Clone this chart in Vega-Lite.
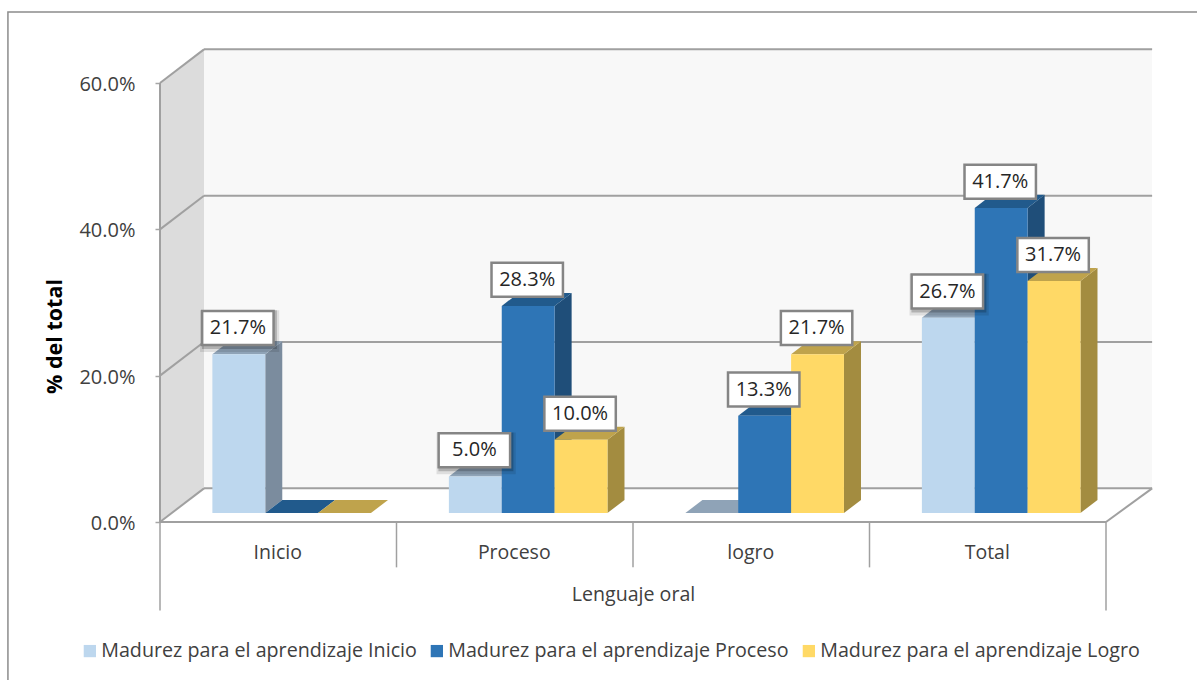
{
"$schema":"https://vega.github.io/schema/vega-lite/v6.json",
"width":946,"height":439,
"autosize":{"type":"none"},
"padding":{"left":160,"top":83,"right":91,"bottom":158},
"background":"white",
"config":{"view":{"stroke":null},"font":"Open Sans"},
"datasets":{
"bars":[
{"grupo":"Inicio","serie":"Madurez para el aprendizaje Inicio","valor":21.7},
{"grupo":"Inicio","serie":"Madurez para el aprendizaje Proceso","valor":0},
{"grupo":"Inicio","serie":"Madurez para el aprendizaje Logro","valor":0},
{"grupo":"Proceso","serie":"Madurez para el aprendizaje Inicio","valor":5.0},
{"grupo":"Proceso","serie":"Madurez para el aprendizaje Proceso","valor":28.3},
{"grupo":"Proceso","serie":"Madurez para el aprendizaje Logro","valor":10.0},
{"grupo":"logro","serie":"Madurez para el aprendizaje Inicio","valor":0},
{"grupo":"logro","serie":"Madurez para el aprendizaje Proceso","valor":13.3},
{"grupo":"logro","serie":"Madurez para el aprendizaje Logro","valor":21.7},
{"grupo":"Total","serie":"Madurez para el aprendizaje Inicio","valor":26.7},
{"grupo":"Total","serie":"Madurez para el aprendizaje Proceso","valor":41.7},
{"grupo":"Total","serie":"Madurez para el aprendizaje Logro","valor":31.7}
],
"niveles":[{"nivel":0},{"nivel":20},{"nivel":40},{"nivel":60}],
"bordes":[{"b":0},{"b":1}]
},
"layer":[
{"mark":{"type":"rect","fillOpacity":0,"stroke":"#8c8c8c","strokeWidth":1.5,"clip":false},
 "data":{"values":[{"marco":1}]},
 "encoding":{
  "x":{"datum":-0.643,"type":"quantitative","scale":{"domain":[0,4],"nice":false},"axis":{"values":[0.5,1.5,2.5,3.5],"labelExpr":"['Inicio','Proceso','logro','Total'][floor(datum.value)]","title":"Lenguaje oral","titleFontSize":19.6,"titleFontWeight":"normal","titleColor":"#404040","titlePadding":24,"labelFontSize":19.5,"labelColor":"#404040","labelPadding":21,"labelOffset":-1,"ticks":false,"domain":false,"grid":false}},
  "x2":{"datum":4.5},
  "y":{"datum":-25,"type":"quantitative","scale":{"domain":[0,60],"nice":false},"axis":{"values":[0,20,40,60],"labelExpr":"format(datum.value,'.1f')+'%'","title":"% del total","titleFontSize":21.5,"titleFontWeight":"bold","titleColor":"#000000","titleFont":"Open Sans","titleX":-94,"titleY":253,"labelFontSize":20,"labelColor":"#404040","labelPadding":20,"labelOffset":1.5,"tickColor":"#a6a6a6","tickSize":5,"tickWidth":1.5,"domain":false,"grid":false}},
  "y2":{"datum":69.7}
 }},
{"mark":{"type":"rect","fill":"#f8f8f8","clip":false},
 "data":{"values":[{"pared":"fondo"}]},
 "encoding":{"x":{"datum":0.186,"type":"quantitative"},"x2":{"datum":4.195},"y":{"datum":4.6,"type":"quantitative"},"y2":{"datum":64.7}}},
{"mark":{"type":"area","fill":"#dcdcdc","clip":false},
 "data":{"name":"bordes"},
 "transform":[{"calculate":"datum.b*0.186","as":"xb"},{"calculate":"datum.b*4.6","as":"y0"},{"calculate":"60+datum.b*4.7","as":"y1"}],
 "encoding":{"x":{"field":"xb","type":"quantitative"},"y":{"field":"y0","type":"quantitative","stack":null},"y2":{"field":"y1"}}},
{"mark":{"type":"rule","stroke":"#a0a0a0","strokeWidth":2,"clip":false},
 "data":{"name":"niveles"},
 "transform":[{"calculate":"datum.nivel+4.6","as":"yb"}],
 "encoding":{"x":{"datum":0.186,"type":"quantitative"},"x2":{"datum":4.195},"y":{"field":"yb","type":"quantitative"}}},
{"mark":{"type":"rule","stroke":"#a0a0a0","strokeWidth":2,"clip":false},
 "data":{"name":"niveles"},
 "transform":[{"calculate":"datum.nivel+4.6","as":"yb"}],
 "encoding":{"x":{"datum":0,"type":"quantitative"},"x2":{"datum":0.186},"y":{"field":"nivel","type":"quantitative"},"y2":{"field":"yb"}}},
{"mark":{"type":"rule","stroke":"#a0a0a0","strokeWidth":2,"clip":false},
 "data":{"values":[{"v":"frente"}]},
 "encoding":{"x":{"datum":0,"type":"quantitative"},"x2":{"datum":4},"y":{"datum":0,"type":"quantitative"}}},
{"mark":{"type":"rule","stroke":"#a0a0a0","strokeWidth":2,"clip":false},
 "data":{"values":[{"v":"derecha"}]},
 "encoding":{"x":{"datum":4,"type":"quantitative"},"x2":{"datum":4.195},"y":{"datum":0,"type":"quantitative"},"y2":{"datum":4.6}}},
{"mark":{"type":"rule","stroke":"#a0a0a0","strokeWidth":2,"clip":false},
 "data":{"values":[{"v":"izq"}]},
 "encoding":{"x":{"datum":0,"type":"quantitative"},"y":{"datum":0,"type":"quantitative"},"y2":{"datum":60}}},
{"mark":{"type":"rule","stroke":"#a0a0a0","strokeWidth":1.5,"clip":false},
 "data":{"values":[{"c":1},{"c":2},{"c":3}]},
 "encoding":{"x":{"field":"c","type":"quantitative"},"y":{"datum":0,"type":"quantitative"},"y2":{"datum":-6.2}}},
{"mark":{"type":"rule","stroke":"#a0a0a0","strokeWidth":1.5,"clip":false},
 "data":{"values":[{"c":0},{"c":4}]},
 "encoding":{"x":{"field":"c","type":"quantitative"},"y":{"datum":0,"type":"quantitative"},"y2":{"datum":-12.1}}},
{"mark":{"type":"area","clip":false},
 "data":{"name":"bars"},
 "transform":[
  {"calculate":"indexof(['Inicio','Proceso','logro','Total'],datum.grupo)","as":"gi"},
  {"calculate":"indexof(['Madurez para el aprendizaje Inicio','Madurez para el aprendizaje Proceso','Madurez para el aprendizaje Logro'],datum.serie)","as":"si"},
  {"filter":"datum.valor>0"},
  {"calculate":"[0,1]","as":"b"},{"flatten":["b"]},
  {"calculate":"datum.gi+0.2215+(datum.si+1)*0.2235+datum.b*0.072","as":"xs"},
  {"calculate":"1.23+datum.b*1.78","as":"y0"},
  {"calculate":"datum.valor+1.23+datum.b*1.78","as":"y1"},
  {"calculate":"datum.grupo+datum.serie","as":"clave"}
 ],
 "encoding":{"x":{"field":"xs","type":"quantitative"},"y":{"field":"y1","type":"quantitative","stack":null},"y2":{"field":"y0"},
  "detail":{"field":"clave"},
  "color":{"field":"serie","type":"nominal","scale":{"domain":["Madurez para el aprendizaje Inicio","Madurez para el aprendizaje Proceso","Madurez para el aprendizaje Logro"],"range":["#7b8c9e","#1f4e79","#a38c40"]},"legend":null}}},
{"mark":{"type":"area","orient":"horizontal","clip":false},
 "data":{"name":"bars"},
 "transform":[
  {"calculate":"indexof(['Inicio','Proceso','logro','Total'],datum.grupo)","as":"gi"},
  {"calculate":"indexof(['Madurez para el aprendizaje Inicio','Madurez para el aprendizaje Proceso','Madurez para el aprendizaje Logro'],datum.serie)","as":"si"},
  {"calculate":"[0,1]","as":"b"},{"flatten":["b"]},
  {"calculate":"datum.gi+0.2215+datum.si*0.2235+datum.b*0.072","as":"xl"},
  {"calculate":"datum.gi+0.2215+(datum.si+1)*0.2235+datum.b*0.072","as":"xr"},
  {"calculate":"datum.valor+1.23+datum.b*1.78","as":"yt"},
  {"calculate":"datum.grupo+datum.serie","as":"clave"}
 ],
 "encoding":{"y":{"field":"yt","type":"quantitative"},"x":{"field":"xl","type":"quantitative","stack":null},"x2":{"field":"xr"},
  "detail":{"field":"clave"},
  "color":{"field":"serie","type":"nominal","scale":{"domain":["Madurez para el aprendizaje Inicio","Madurez para el aprendizaje Proceso","Madurez para el aprendizaje Logro"],"range":["#8fa3b7","#215a8c","#bfa34c"]},"legend":null}}},
{"mark":{"type":"rect","clip":false},
 "data":{"name":"bars"},
 "transform":[
  {"calculate":"indexof(['Inicio','Proceso','logro','Total'],datum.grupo)","as":"gi"},
  {"calculate":"indexof(['Madurez para el aprendizaje Inicio','Madurez para el aprendizaje Proceso','Madurez para el aprendizaje Logro'],datum.serie)","as":"si"},
  {"calculate":"datum.gi+0.2215+datum.si*0.2235","as":"xl"},
  {"calculate":"datum.xl+0.2235","as":"xr"},
  {"calculate":"1.23","as":"y0"},
  {"calculate":"datum.valor+1.23","as":"y1"}
 ],
 "encoding":{"x":{"field":"xl","type":"quantitative"},"x2":{"field":"xr"},"y":{"field":"y1","type":"quantitative"},"y2":{"field":"y0"},
  "color":{"field":"serie","type":"nominal","sort":null,"scale":{"domain":["Madurez para el aprendizaje Inicio","Madurez para el aprendizaje Proceso","Madurez para el aprendizaje Logro"],"range":["#bdd7ee","#2e75b6","#ffd966"]},
   "legend":{"orient":"none","legendX":-80,"legendY":558,"direction":"horizontal","columns":3,"title":null,"symbolType":"square","symbolSize":150,"symbolStrokeWidth":0,"labelFontSize":19.7,"labelColor":"#404040","labelLimit":400,"columnPadding":10,"labelOffset":1.5}}}},
{"mark":{"type":"rect","fill":"#000000","opacity":0.1,"clip":false},
 "data":{"name":"bars"},
 "transform":[
  {"calculate":"indexof(['Inicio','Proceso','logro','Total'],datum.grupo)","as":"gi"},
  {"calculate":"indexof(['Madurez para el aprendizaje Inicio','Madurez para el aprendizaje Proceso','Madurez para el aprendizaje Logro'],datum.serie)","as":"si"},
  {"filter":"datum.valor>0 && datum.si==0"},
  {"calculate":"datum.gi+0.2215+(datum.si+0.5)*0.2235-0.004","as":"xc"},
  {"calculate":"datum.xc-0.16","as":"xl"},
  {"calculate":"datum.xc+0.175","as":"xr"},
  {"calculate":"datum.valor+1.23+0.3","as":"yb"},
  {"calculate":"datum.valor+1.23+6.0","as":"yt"}
 ],
 "encoding":{"x":{"field":"xl","type":"quantitative"},"x2":{"field":"xr"},"y":{"field":"yb","type":"quantitative"},"y2":{"field":"yt"}}},
{"mark":{"type":"rect","fill":"#000000","opacity":0.2,"clip":false},
 "data":{"name":"bars"},
 "transform":[
  {"calculate":"indexof(['Inicio','Proceso','logro','Total'],datum.grupo)","as":"gi"},
  {"calculate":"indexof(['Madurez para el aprendizaje Inicio','Madurez para el aprendizaje Proceso','Madurez para el aprendizaje Logro'],datum.serie)","as":"si"},
  {"filter":"datum.valor>0 && datum.si==0"},
  {"calculate":"datum.gi+0.2215+(datum.si+0.5)*0.2235-0.004","as":"xc"},
  {"calculate":"datum.xc-0.152","as":"xl"},
  {"calculate":"datum.xc+0.165","as":"xr"},
  {"calculate":"datum.valor+1.23+0.7","as":"yb"},
  {"calculate":"datum.valor+1.23+6.0","as":"yt"}
 ],
 "encoding":{"x":{"field":"xl","type":"quantitative"},"x2":{"field":"xr"},"y":{"field":"yb","type":"quantitative"},"y2":{"field":"yt"}}},
{"mark":{"type":"rect","fill":"white","stroke":"#858585","strokeWidth":2.5,"clip":false},
 "data":{"name":"bars"},
 "transform":[
  {"calculate":"indexof(['Inicio','Proceso','logro','Total'],datum.grupo)","as":"gi"},
  {"calculate":"indexof(['Madurez para el aprendizaje Inicio','Madurez para el aprendizaje Proceso','Madurez para el aprendizaje Logro'],datum.serie)","as":"si"},
  {"filter":"datum.valor>0"},
  {"calculate":"datum.gi+0.2215+(datum.si+0.5)*0.2235-0.004","as":"xc"},
  {"calculate":"datum.xc-0.151","as":"xl"},
  {"calculate":"datum.xc+0.151","as":"xr"},
  {"calculate":"datum.valor+1.23+1.25","as":"yb"},
  {"calculate":"datum.valor+1.23+5.9","as":"yt"}
 ],
 "encoding":{"x":{"field":"xl","type":"quantitative"},"x2":{"field":"xr"},"y":{"field":"yb","type":"quantitative"},"y2":{"field":"yt"}}},
{"mark":{"type":"text","fontSize":20,"color":"#262626","align":"center","baseline":"middle","clip":false},
 "data":{"name":"bars"},
 "transform":[
  {"calculate":"indexof(['Inicio','Proceso','logro','Total'],datum.grupo)","as":"gi"},
  {"calculate":"indexof(['Madurez para el aprendizaje Inicio','Madurez para el aprendizaje Proceso','Madurez para el aprendizaje Logro'],datum.serie)","as":"si"},
  {"filter":"datum.valor>0"},
  {"calculate":"datum.gi+0.2215+(datum.si+0.5)*0.2235-0.004","as":"xc"},
  {"calculate":"datum.valor+1.23+3.55","as":"yc"},
  {"calculate":"format(datum.valor,'.1f')+'%'","as":"etiqueta"}
 ],
 "encoding":{"x":{"field":"xc","type":"quantitative"},"y":{"field":"yc","type":"quantitative"},"text":{"field":"etiqueta"}}}
],
"resolve":{"scale":{"color":"independent"}}
}
